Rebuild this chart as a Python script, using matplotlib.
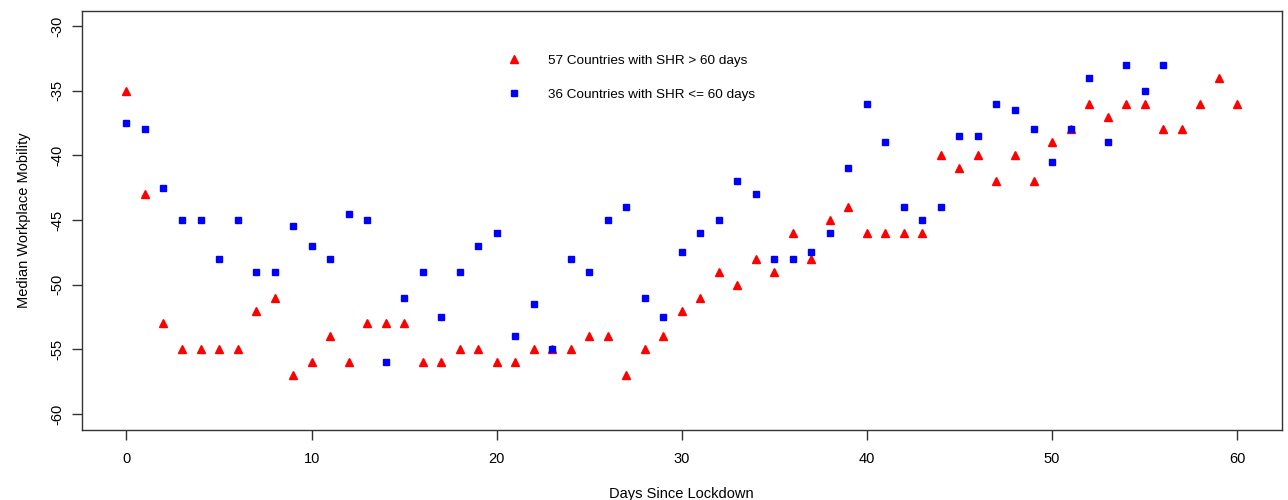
import matplotlib
matplotlib.use("Agg")
import matplotlib.pyplot as plt

# days since lockdown
days_long = list(range(0, 61))
days_short = list(range(0, 57))

# median workplace mobility, 57 countries with SHR > 60 days
mob_long = [-35, -43, -53, -55, -55, -55, -55, -52, -51, -57,
            -56, -54, -56, -53, -53, -53, -56, -56, -55, -55,
            -56, -56, -55, -55, -55, -54, -54, -57, -55, -54,
            -52, -51, -49, -50, -48, -49, -46, -48, -45, -44,
            -46, -46, -46, -46, -40, -41, -40, -42, -40, -42,
            -39, -38, -36, -37, -36, -36, -38, -38, -36, -34,
            -36]

# median workplace mobility, 36 countries with SHR <= 60 days
mob_short = [-37.5, -38, -42.5, -45, -45, -48, -45, -49, -49, -45.5,
             -47, -48, -44.5, -45, -56, -51, -49, -52.5, -49, -47,
             -46, -54, -51.5, -55, -48, -49, -45, -44, -51, -52.5,
             -47.5, -46, -45, -42, -43, -48, -48, -47.5, -46, -41,
             -36, -39, -44, -45, -44, -38.5, -38.5, -36, -36.5, -38,
             -40.5, -38, -34, -39, -33, -35, -33]

label_long = "57 Countries with SHR > 60 days"
label_short = "36 Countries with SHR <= 60 days"

plt.rcParams['font.family'] = ['Liberation Sans', 'DejaVu Sans']
plt.rcParams['axes.unicode_minus'] = False

fig = plt.figure(figsize=(12.88, 5.0), dpi=100)
ax = fig.add_axes([0.0637, 0.141, 0.9313, 0.838])

ax.plot(days_long, mob_long, linestyle='none', marker='^', markersize=5.5,
        color='#ff0000', label=label_long)
ax.plot(days_short, mob_short, linestyle='none', marker='s', markersize=4.5,
        color='#0000ff', label=label_short)

ax.set_xlim(-2.4, 62.4)
ax.set_ylim(-61.2, -28.8)
ax.set_xticks(range(0, 61, 10))
ax.set_yticks(range(-60, -29, 5))

for s in ax.spines.values():
    s.set_linewidth(1.0)
    s.set_color('#333333')

ax.tick_params(axis='both', direction='out', length=7, width=1,
               color='#333333', labelsize=10.5)
ax.tick_params(axis='x', pad=9)
ax.tick_params(axis='y', pad=6)
for lab in ax.get_yticklabels():
    lab.set_rotation(90)
    lab.set_va('center')

ax.set_xlabel("Days Since Lockdown", fontsize=10.5, labelpad=15)
ax.set_ylabel("Median Workplace Mobility", fontsize=10.5, labelpad=14)

ax.legend(loc='upper left', bbox_to_anchor=(0.349, 0.908), frameon=False,
          fontsize=9.7, labelspacing=1.6, handletextpad=1.9,
          handlelength=1.2, borderaxespad=0)

fig.savefig("out.png", dpi=100)
